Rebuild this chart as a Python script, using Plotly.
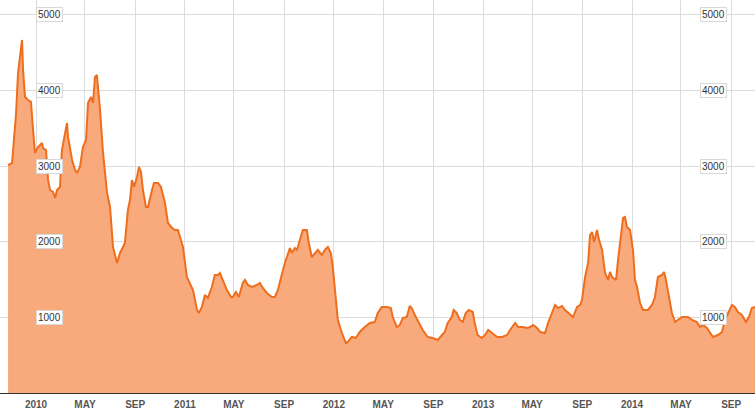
import pandas as pd
import plotly.graph_objects as go

# Decimal-year positions of the traced points and the index values
t_years = [
    2009.812, 2009.839, 2009.846, 2009.866, 2009.879, 2009.906, 2009.913, 2009.926, 2009.946, 2009.966,
    2009.980, 2009.993, 2010.013, 2010.040, 2010.047, 2010.067, 2010.081, 2010.094, 2010.114, 2010.128,
    2010.141, 2010.161, 2010.174, 2010.195, 2010.208, 2010.215, 2010.242, 2010.262, 2010.275, 2010.295,
    2010.315, 2010.336, 2010.349, 2010.369, 2010.383, 2010.396, 2010.409, 2010.416, 2010.430, 2010.450,
    2010.477, 2010.497, 2010.517, 2010.544, 2010.564, 2010.584, 2010.597, 2010.617, 2010.631, 2010.644,
    2010.658, 2010.678, 2010.691, 2010.705, 2010.718, 2010.738, 2010.752, 2010.779, 2010.792, 2010.819,
    2010.839, 2010.866, 2010.886, 2010.913, 2010.933, 2010.953, 2010.966, 2010.987, 2011.013, 2011.034,
    2011.054, 2011.081, 2011.094, 2011.114, 2011.134, 2011.154, 2011.181, 2011.201, 2011.221, 2011.235,
    2011.255, 2011.282, 2011.309, 2011.322, 2011.342, 2011.362, 2011.389, 2011.403, 2011.423, 2011.450,
    2011.483, 2011.503, 2011.523, 2011.550, 2011.584, 2011.604, 2011.624, 2011.651, 2011.671, 2011.685,
    2011.705, 2011.718, 2011.738, 2011.752, 2011.772, 2011.792, 2011.819, 2011.832, 2011.852, 2011.872,
    2011.893, 2011.919, 2011.940, 2011.960, 2011.980, 2011.993, 2012.007, 2012.027, 2012.054, 2012.081,
    2012.094, 2012.121, 2012.148, 2012.174, 2012.208, 2012.242, 2012.275, 2012.295, 2012.322, 2012.356,
    2012.383, 2012.396, 2012.423, 2012.443, 2012.463, 2012.490, 2012.510, 2012.523, 2012.544, 2012.570,
    2012.597, 2012.631, 2012.664, 2012.698, 2012.725, 2012.745, 2012.765, 2012.792, 2012.805, 2012.826,
    2012.846, 2012.866, 2012.886, 2012.906, 2012.933, 2012.946, 2012.966, 2012.993, 2013.013, 2013.034,
    2013.060, 2013.094, 2013.128, 2013.161, 2013.181, 2013.215, 2013.235, 2013.268, 2013.295, 2013.315,
    2013.336, 2013.362, 2013.383, 2013.416, 2013.436, 2013.463, 2013.483, 2013.503, 2013.530, 2013.550,
    2013.584, 2013.604, 2013.631, 2013.651, 2013.664, 2013.685, 2013.705, 2013.718, 2013.732, 2013.745,
    2013.765, 2013.779, 2013.799, 2013.819, 2013.839, 2013.852, 2013.866, 2013.893, 2013.906, 2013.926,
    2013.940, 2013.953, 2013.966, 2013.987, 2014.007, 2014.020, 2014.034, 2014.054, 2014.074, 2014.107,
    2014.134, 2014.154, 2014.174, 2014.201, 2014.215, 2014.228, 2014.242, 2014.268, 2014.289, 2014.309,
    2014.336, 2014.356, 2014.376, 2014.403, 2014.436, 2014.456, 2014.477, 2014.503, 2014.523, 2014.544,
    2014.577, 2014.604, 2014.624, 2014.644, 2014.671, 2014.691, 2014.711, 2014.738, 2014.765, 2014.785,
    2014.805, 2014.826,
]

index_values = [
    3016, 3040, 3214, 3700, 4230, 4670, 4270, 3915, 3875, 3850,
    3480, 3175, 3254, 3307, 3240, 3214, 2817, 2685, 2659, 2579,
    2685, 2725, 3214, 3439, 3571, 3386, 3082, 2950, 2910, 2990,
    3254, 3347, 3836, 3915, 3836, 4180, 4206, 4048, 3743, 3175,
    2646, 2460, 1931, 1720, 1852, 1931, 1984, 2421, 2553, 2817,
    2725, 2857, 2990, 2923, 2685, 2460, 2460, 2685, 2778, 2778,
    2725, 2513, 2249, 2183, 2156, 2156, 2063, 1931, 1534, 1455,
    1362, 1098, 1058, 1138, 1296, 1257, 1402, 1560, 1560, 1587,
    1495, 1362, 1270, 1270, 1336, 1270, 1455, 1495, 1429, 1402,
    1429, 1455, 1389, 1323, 1270, 1270, 1362, 1587, 1720, 1799,
    1918, 1852, 1918, 1892, 2024, 2156, 2156, 1984, 1799, 1852,
    1892, 1825, 1892, 1931, 1852, 1667, 1362, 966, 794, 661,
    675, 741, 728, 807, 873, 926, 939, 1058, 1138, 1138,
    1124, 1005, 873, 899, 992, 1005, 1151, 1124, 1032, 926,
    833, 741, 728, 701, 767, 807, 926, 1005, 1098, 1058,
    966, 939, 1058, 1098, 1071, 926, 767, 728, 767, 833,
    794, 741, 741, 767, 833, 926, 873, 873, 860, 873,
    899, 860, 807, 794, 926, 1058, 1164, 1124, 1151, 1098,
    1032, 1005, 1138, 1164, 1230, 1534, 1720, 2090, 2130, 1997,
    2156, 2024, 1892, 1587, 1495, 1601, 1534, 1495, 1759, 2116,
    2315, 2328, 2196, 2156, 1880, 1495, 1402, 1190, 1098, 1098,
    1164, 1270, 1534, 1561, 1601, 1495, 1323, 1058, 939, 966,
    1005, 1005, 1005, 966, 939, 873, 899, 860, 794, 741,
    767, 807, 966, 1058, 1164, 1138, 1071, 1032, 939, 1005,
    1124, 1138,
]

y_ticks = [1000, 2000, 3000, 4000, 5000]
x_tick_dates = ["2010-01-01", "2010-05-01", "2010-09-01", "2011-01-01", "2011-05-01", "2011-09-01",
                "2012-01-01", "2012-05-01", "2012-09-01", "2013-01-01", "2013-05-01", "2013-09-01",
                "2014-01-01", "2014-05-01", "2014-09-01"]
x_tick_labels = ["2010", "MAY", "SEP", "2011", "MAY", "SEP", "2012", "MAY", "SEP",
                 "2013", "MAY", "SEP", "2014", "MAY", "SEP"]


def to_date(t):
    y = int(t // 1)
    return pd.Timestamp(year=y, month=1, day=1) + pd.Timedelta(days=(t - y) * 365.0)


dates = [to_date(t) for t in t_years]
x_start = to_date(2009.758)
x_end = to_date(2014.826)

fig = go.Figure()
fig.add_trace(go.Scatter(
    x=dates, y=index_values, mode="lines",
    line=dict(color="#EE6E1E", width=2),
    fill="tozeroy", fillcolor="#F9AA7C",
    hoverinfo="skip", showlegend=False,
))

for v in y_ticks:
    for px in (0.048, 0.963):
        fig.add_annotation(
            x=px, xref="paper", y=v, yref="y",
            text=f"{v}", showarrow=False,
            font=dict(family="Liberation Sans, Arial", size=10, color="#333333"),
            bgcolor="white", bordercolor="#d8d8d8", borderwidth=1, borderpad=1,
        )

fig.update_layout(
    width=755, height=413,
    margin=dict(l=0, r=0, t=0, b=20),
    paper_bgcolor="white", plot_bgcolor="white",
    hovermode=False,
    xaxis=dict(
        type="date", range=[x_start, x_end],
        tickmode="array", tickvals=x_tick_dates, ticktext=x_tick_labels,
        showgrid=True, gridcolor="#dcdcdc", gridwidth=1,
        showline=True, linecolor="#333333", linewidth=1,
        ticks="", ticklabelstandoff=2,
        tickfont=dict(family="Liberation Sans, Arial", size=10, color="#555555", weight="bold"),
        layer="below traces", zeroline=False, automargin=False,
    ),
    yaxis=dict(
        range=[0, 5198], tickmode="array", tickvals=y_ticks,
        showticklabels=False, showgrid=True, gridcolor="#dcdcdc", gridwidth=1,
        zeroline=False, showline=False, automargin=False,
    ),
)

fig.write_html(
    "out.html",
    config={"displayModeBar": False},
    post_script="document.body.style.margin='0';document.body.style.overflow='hidden';",
)
